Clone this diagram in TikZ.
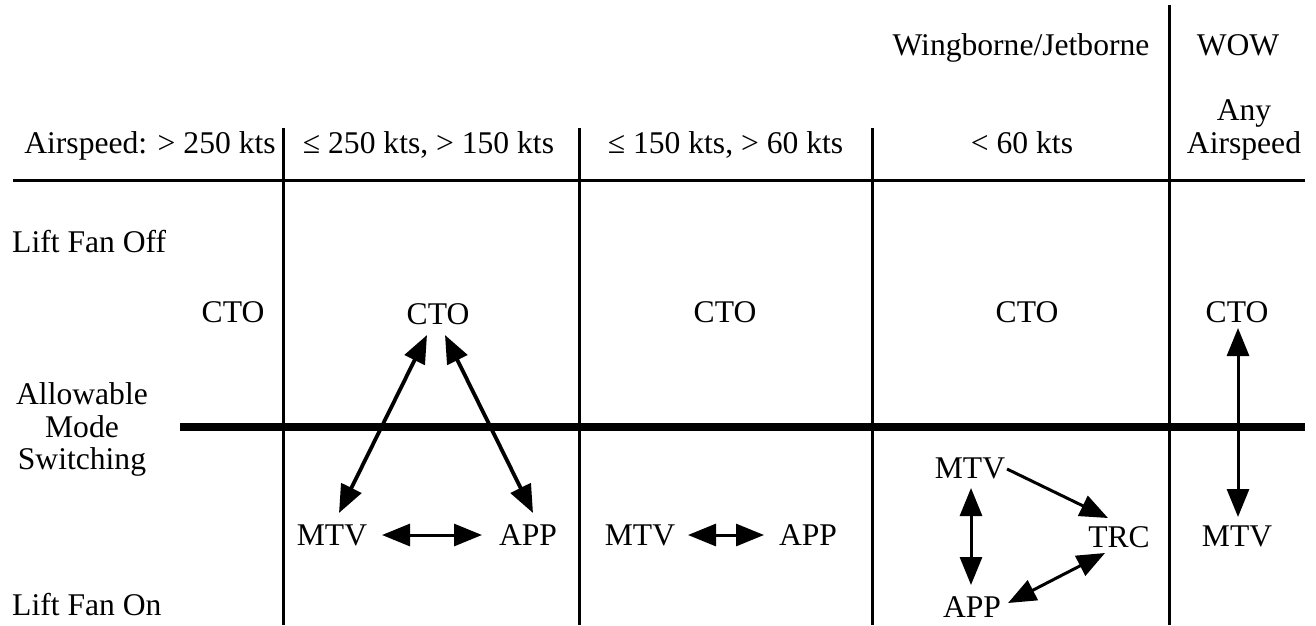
\documentclass[tikz,border=0pt]{standalone}
\usepackage{fontspec}
\setmainfont{Liberation Serif}
\usetikzlibrary{arrows.meta,calc}
\begin{document}
\begin{tikzpicture}[x=1pt,y=-1pt,
  txt/.style={font={\fontsize{31.6}{32.5}\selectfont}, inner sep=0pt},
  mode/.style={txt, text height=20.9pt, text depth=0pt},
  rule/.style={line width=3pt},
  heavy/.style={line width=8pt},
  head/.tip={Triangle[length=28pt,width=22pt]},
  oneway/.style={line width=3pt, -head},
  twoway/.style={line width=3pt, head-head},
  twowayb/.style={line width=3.8pt, head-head},
]
% canvas
\path[use as bounding box, fill=white] (0,0) rectangle (1316,625);

% grid rules
\draw[rule] (1169,5) -- (1169,625);
\draw[rule] (283,128) -- (283,625);
\draw[rule] (579,128) -- (579,625);
\draw[rule] (872,128) -- (872,625);
\draw[rule] (13,180) -- (1305,180);
\draw[heavy] (180,427) -- (1305,427);

% column headings
\node[txt, anchor=base] (hwj)  at (1021,55) {Wingborne/Jetborne};
\node[txt, anchor=base] (hwow) at (1238,55) {WOW};
\node[txt, anchor=base] (h1) at (150,153) {Airspeed: > 250 kts};
\node[txt, anchor=base] (h2) at (428.5,153) {≤ 250 kts, > 150 kts};
\node[txt, anchor=base] (h3) at (725.5,153) {≤ 150 kts, > 60 kts};
\node[txt, anchor=base] (h4) at (1022,153) {< 60 kts};
\node[txt, anchor=south, align=center] (h5) at (1244,160) {Any\\Airspeed};

% row labels
\node[txt, anchor=base west] (roff) at (12,252) {Lift Fan Off};
\node[txt, anchor=south, align=center] (rsw) at (82,477) {Allowable\\Mode\\Switching};
\node[txt, anchor=base west] (ron) at (12,615) {Lift Fan On};

% modes
\node[mode] (cto1) at (233,312) {CTO};

\node[mode] (cto2) at (438,314) {CTO};
\node[mode] (mtv2) at (332,535) {MTV};
\node[mode] (app2) at (528,535) {APP};

\node[mode] (cto3) at (725,312) {CTO};
\node[mode] (mtv3) at (640,535) {MTV};
\node[mode] (app3) at (808,535) {APP};

\node[mode] (cto4) at (1027,312) {CTO};
\node[mode] (mtv4) at (970,468) {MTV};
\node[mode] (trc)  at (1119,537) {TRC};
\node[mode] (app4) at (972,607) {APP};

\node[mode] (cto5) at (1237,312) {CTO};
\node[mode] (mtv5) at (1237,536) {MTV};

% mode switching
\draw[twowayb] ($(cto2)+(-11,21)$) -- ($(mtv2)+(7,-22)$);
\draw[twowayb] ($(cto2)+(7,21)$) -- ($(app2)+(5,-22)$);
\draw[twoway] ($(mtv2)+(50,0)$) -- ($(app2)+(-46,0)$);

\draw[twoway] ($(mtv3)+(48,0)$) -- ($(app3)+(-44,0)$);

\draw[oneway] ($(mtv4)+(37,1)$) -- ($(trc)+(-11,-19)$);
\draw[twoway] ($(mtv4)+(1,20)$) -- ($(app4)+(-1,-22)$);
\draw[twoway] ($(trc)+(-14,16)$) -- ($(app4)+(36,-4)$);

\draw[twoway] ($(cto5)+(1,16)$) -- ($(mtv5)+(1,-19)$);
\end{tikzpicture}
\end{document}
